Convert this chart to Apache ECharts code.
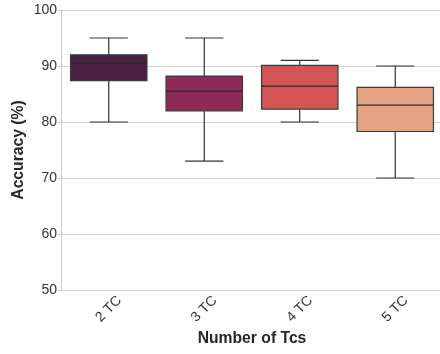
<!DOCTYPE html>
<html>
<head>
<meta charset="utf-8">
<script src="https://cdn.jsdelivr.net/npm/echarts@6/dist/echarts.min.js"></script>
<style>
html,body{margin:0;padding:0;background:#fff;}
#chart{width:440px;height:354px;}
</style>
</head>
<body>
<div id="chart"></div>
<script>
const categories = ['2 TC', '3 TC', '4 TC', '5 TC'];
const whiskerLow = [80, 73, 80, 70];
const q1 = [87.4, 82, 82.3, 78.3];
const median = [90.5, 85.5, 86.4, 83];
const q3 = [92, 88.2, 90.1, 86.2];
const whiskerHigh = [95, 95, 91, 90];
const colors = ['#4a2142', '#8e2a5a', '#d35556', '#e5a283'];
const yTicks = [50, 60, 70, 80, 90, 100];

const data = categories.map((c, i) => [i, whiskerLow[i], q1[i], median[i], q3[i], whiskerHigh[i]]);

const chart = echarts.init(document.getElementById('chart'), null, {renderer: 'canvas'});
const font = 'Liberation Sans, Arial, sans-serif';
chart.setOption({
  animation: false,
  backgroundColor: '#fff',
  grid: {left: 61, right: -3, top: 10, bottom: 64, containLabel: false, outerBoundsMode: 'none'},
  xAxis: {
    type: 'category',
    data: categories,
    boundaryGap: true,
    axisLine: {show: false},
    axisTick: {show: false},
    splitLine: {show: false},
    axisLabel: {
      rotate: 45, align: 'center', verticalAlign: 'middle', margin: 19,
      color: '#333', fontSize: 14, fontFamily: font
    },
    name: 'Number of Tcs',
    nameLocation: 'middle',
    nameGap: 41,
    nameMoveOverlap: false,
    nameTextStyle: {fontWeight: 'bold', fontSize: 15.7, color: '#262626', fontFamily: font}
  },
  yAxis: {
    type: 'value',
    min: 50, max: 100, interval: 10,
    axisLine: {show: true, lineStyle: {color: '#cccccc', width: 1}},
    axisTick: {show: true, length: 3, lineStyle: {color: '#cccccc'}},
    splitLine: {show: true, lineStyle: {color: '#d0d0d0', width: 1}},
    axisLabel: {
      color: '#333', fontSize: 14, fontFamily: font, margin: 4,
      formatter: v => yTicks.includes(v) ? String(v) : ''
    },
    name: 'Accuracy (%)',
    nameLocation: 'middle',
    nameGap: 34,
    nameMoveOverlap: false,
    nameTextStyle: {fontWeight: 'bold', fontSize: 15.7, color: '#262626', fontFamily: font}
  },
  series: [{
    type: 'custom',
    data: data,
    encode: {x: 0, y: [1, 2, 3, 4, 5]},
    renderItem: function (params, api) {
      const idx = api.value(0);
      const band = api.size([1, 0])[0];
      const boxW = band * 0.8;
      const capW = boxW / 2;
      const pLow = api.coord([idx, api.value(1)]);
      const pQ1 = api.coord([idx, api.value(2)]);
      const pMed = api.coord([idx, api.value(3)]);
      const pQ3 = api.coord([idx, api.value(4)]);
      const pHigh = api.coord([idx, api.value(5)]);
      const cx = pLow[0];
      const lineStyle = {stroke: '#333333', lineWidth: 1.2, fill: null};
      return {
        type: 'group',
        children: [
          {type: 'line', shape: {x1: cx, y1: pLow[1], x2: cx, y2: pQ1[1]}, style: lineStyle},
          {type: 'line', shape: {x1: cx, y1: pQ3[1], x2: cx, y2: pHigh[1]}, style: lineStyle},
          {type: 'line', shape: {x1: cx - capW / 2, y1: pLow[1], x2: cx + capW / 2, y2: pLow[1]}, style: lineStyle},
          {type: 'line', shape: {x1: cx - capW / 2, y1: pHigh[1], x2: cx + capW / 2, y2: pHigh[1]}, style: lineStyle},
          {type: 'rect', shape: {x: cx - boxW / 2, y: pQ3[1], width: boxW, height: pQ1[1] - pQ3[1]},
            style: {fill: colors[idx], stroke: '#3a3a3a', lineWidth: 1.2}},
          {type: 'line', shape: {x1: cx - boxW / 2, y1: pMed[1], x2: cx + boxW / 2, y2: pMed[1]},
            style: {stroke: '#2a2a2a', lineWidth: 1.2}}
        ]
      };
    }
  }]
});
</script>
</body>
</html>
